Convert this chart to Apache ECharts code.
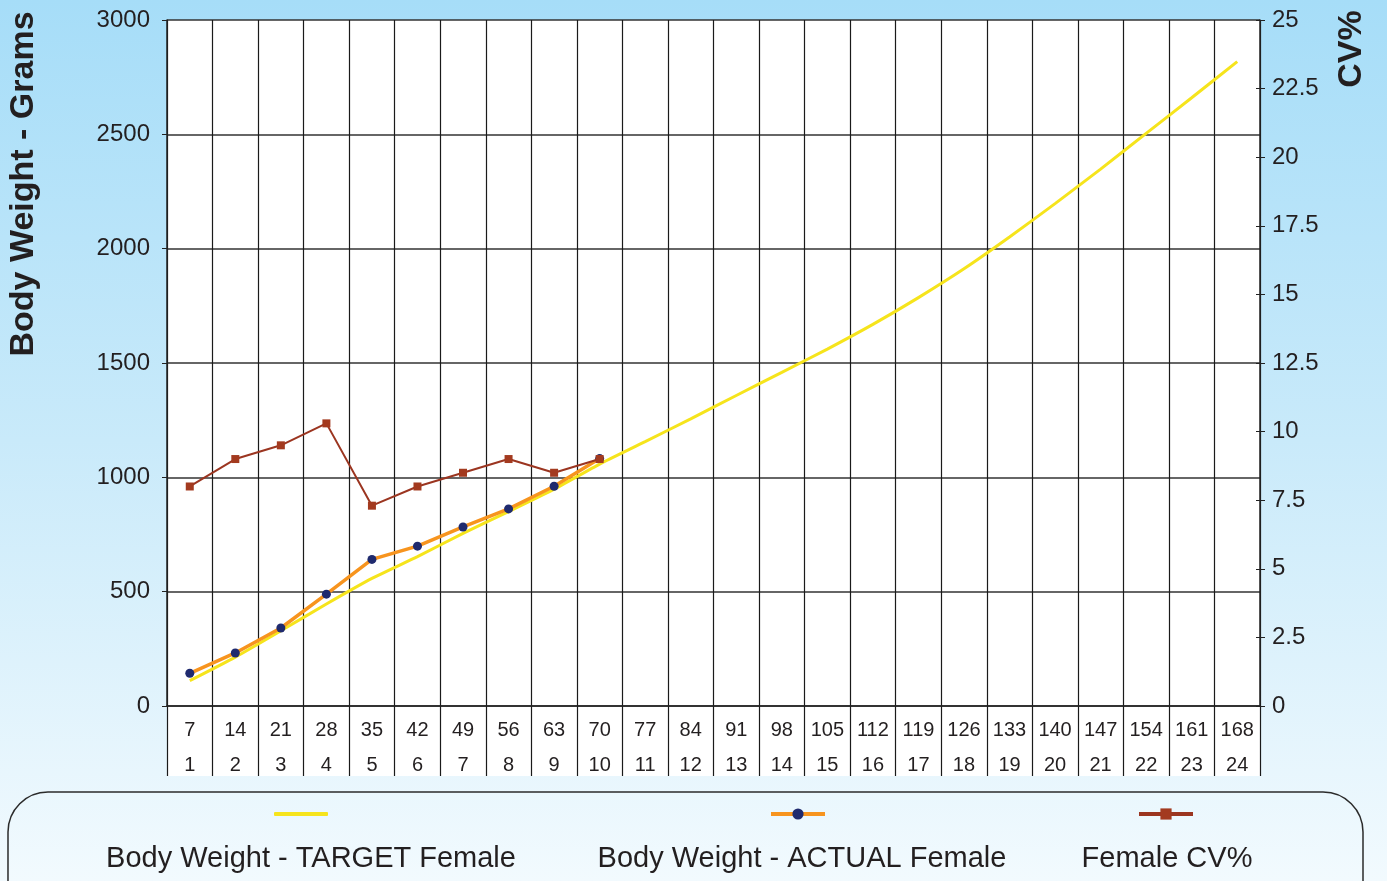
<!DOCTYPE html>
<html>
<head>
<meta charset="utf-8">
<script src="https://cdn.jsdelivr.net/npm/echarts@6/dist/echarts.min.js"></script>
<style>
  html, body { margin: 0; padding: 0; }
  #chart { width: 1387px; height: 881px; }
</style>
</head>
<body>
<div id="chart"></div>
<script>
// age in days (top row) and weeks (bottom row)
const days = [7, 14, 21, 28, 35, 42, 49, 56, 63, 70, 77, 84, 91, 98, 105, 112, 119, 126, 133, 140, 147, 154, 161, 168];
const weeks = ['1', '2', '3', '4', '5', '6', '7', '8', '9', '10', '11', '12',
    '13', '14', '15', '16', '17', '18', '19', '20', '21', '22', '23', '24'];

// grams
const targetWeight = [111, 214, 329, 446, 558, 653, 755, 850, 948, 1058, 1156, 1256,
    1358, 1459, 1561, 1669, 1786, 1912, 2051, 2197, 2348, 2504, 2660, 2818];
const actualWeight = [143, 232, 341, 489, 641, 699, 783, 862, 961, 1082];

// uniformity %
const cvPercent = [8.0, 9.0, 9.5, 10.3, 7.3, 8.0, 8.5, 9.0, 8.5, 9.0];

const seriesNames = ['Body Weight - TARGET Female', 'Body Weight - ACTUAL Female', 'Female CV%'];

const font = '"Liberation Sans", Arial, Helvetica, sans-serif';
const ink = '#231f20';

let chart = echarts.init(document.getElementById('chart'));

function legendFor(item, left, top, h) {
    return {
        data: [item],
        left: left,
        top: top,
        padding: 0,
        itemWidth: 54,
        itemHeight: h,
        formatter: () => '',
        selectedMode: false,
        lineStyle: { width: 4 },
        textStyle: { fontSize: 1 }
    };
}

chart.setOption({
    animation: false,
    backgroundColor: {
        type: 'linear', x: 0, y: 0, x2: 0, y2: 1,
        colorStops: [
            { offset: 0, color: '#a6ddf8' },
            { offset: 0.5, color: '#c9eafa' },
            { offset: 1, color: '#f2fafe' }
        ]
    },
    textStyle: { fontFamily: font },
    grid: [
        { left: 167, right: 127, top: 20, height: 686, show: true, backgroundColor: '#fff', borderWidth: 0 },
        { left: 167, right: 127, top: 706, height: 70, show: true, backgroundColor: '#fff', borderWidth: 0 }
    ],
    legend: [
        legendFor({ name: seriesNames[0], icon: 'roundRect' }, 274, 812, 4),
        legendFor(seriesNames[1], 769, 807, 14),
        legendFor(seriesNames[2], 1137, 807, 14)
    ],
    xAxis: [
        {
            type: 'category',
            gridIndex: 0,
            data: weeks,
            boundaryGap: true,
            axisLine: { lineStyle: { color: '#222', width: 1.5 } },
            axisTick: { show: false },
            axisLabel: { show: false },
            splitLine: { show: true, lineStyle: { color: '#1a1a1a', width: 1.2 } }
        },
        {
            type: 'category',
            gridIndex: 1,
            position: 'top',
            data: weeks,
            boundaryGap: true,
            axisLine: { show: false },
            axisTick: { show: false },
            axisLabel: {
                inside: true,
                margin: 7,
                interval: 0,
                fontSize: 20,
                lineHeight: 35,
                color: ink,
                formatter: (v, i) => days[i] + '\n' + v
            },
            splitLine: { show: true, lineStyle: { color: '#1a1a1a', width: 1.2 } }
        }
    ],
    yAxis: [
        {
            type: 'value',
            gridIndex: 0,
            min: 0,
            max: 3000,
            interval: 500,
            axisLine: { show: true, lineStyle: { color: '#222', width: 1.5 } },
            axisTick: { show: true, length: 5, lineStyle: { color: '#222' } },
            axisLabel: { fontSize: 24, color: ink, margin: 17, formatter: v => String(v) },
            splitLine: { show: true, lineStyle: { color: '#333', width: 1.5 } }
        },
        {
            type: 'value',
            gridIndex: 0,
            position: 'right',
            min: 0,
            max: 25,
            interval: 2.5,
            axisLine: { show: true, lineStyle: { color: '#222', width: 1.5 } },
            axisTick: { show: true, length: 5, lineStyle: { color: '#222' } },
            axisLabel: { fontSize: 24, color: ink, margin: 12 },
            splitLine: { show: false }
        },
        {
            // inner half of the right-hand ticks
            type: 'value',
            gridIndex: 0,
            position: 'right',
            min: 0,
            max: 25,
            interval: 2.5,
            axisLine: { show: false },
            axisTick: { show: true, inside: true, length: 4, lineStyle: { color: '#222' } },
            axisLabel: { show: false },
            splitLine: { show: false }
        },
        { type: 'value', gridIndex: 1, show: false }
    ],
    series: [
        {
            name: seriesNames[0],
            type: 'line',
            data: targetWeight,
            smooth: 0.2,
            symbol: 'none',
            lineStyle: { color: '#f6e41c', width: 3 },
            itemStyle: { color: '#f6e41c' },
            z: 2
        },
        {
            name: seriesNames[1],
            type: 'line',
            data: actualWeight,
            symbol: 'circle',
            symbolSize: 9,
            lineStyle: { color: '#f7941e', width: 3.5 },
            itemStyle: { color: '#1f2a6e' },
            z: 3
        },
        {
            name: seriesNames[2],
            type: 'line',
            yAxisIndex: 1,
            data: cvPercent,
            symbol: 'rect',
            symbolSize: 8,
            lineStyle: { color: '#9b3520', width: 2 },
            itemStyle: { color: '#a33a1f' },
            z: 4
        }
    ],
    graphic: [
        {
            type: 'text',
            x: 24,
            y: 184,
            rotation: Math.PI / 2,
            style: {
                text: 'Body Weight - Grams',
                font: 'bold 34px ' + font,
                fill: ink,
                align: 'center',
                verticalAlign: 'middle'
            }
        },
        {
            type: 'text',
            x: 1352,
            y: 49,
            rotation: Math.PI / 2,
            style: {
                text: 'CV%',
                font: 'bold 34px ' + font,
                fill: ink,
                align: 'center',
                verticalAlign: 'middle'
            }
        },
        {
            type: 'rect',
            shape: { x: 8, y: 792, width: 1355, height: 130, r: 40 },
            style: { fill: 'transparent', stroke: '#2b2b2b', lineWidth: 1.5 },
            silent: true
        },
        {
            type: 'text', x: 311, y: 859,
            style: { text: seriesNames[0], font: '29px ' + font, fill: ink, align: 'center', verticalAlign: 'middle' }
        },
        {
            type: 'text', x: 802, y: 859,
            style: { text: seriesNames[1], font: '29px ' + font, fill: ink, align: 'center', verticalAlign: 'middle' }
        },
        {
            type: 'text', x: 1167, y: 859,
            style: { text: seriesNames[2], font: '29px ' + font, fill: ink, align: 'center', verticalAlign: 'middle' }
        }
    ]
});
</script>
</body>
</html>
